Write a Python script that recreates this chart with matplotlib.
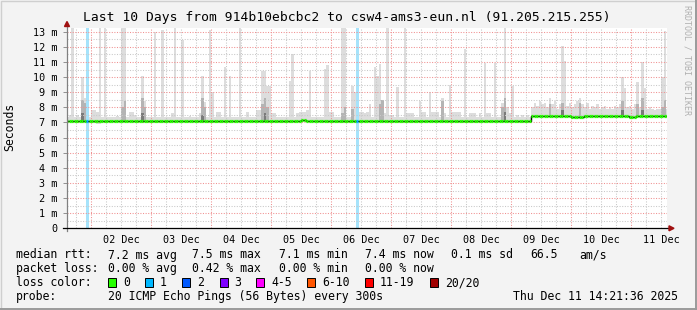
import datetime as dt
import matplotlib
matplotlib.use('Agg')
import matplotlib.pyplot as plt
import matplotlib.dates as mdates
from matplotlib.patches import Rectangle, Polygon

plt.rcParams['font.family'] = ['DejaVu Sans Mono']

W, H = 697, 310

# time range of the graph (10 days ending at the stamp in the legend)
end_time = dt.datetime(2025, 12, 11, 14, 21, 36)
start_time = end_time - dt.timedelta(days=10)
first_bin = dt.datetime(2025, 12, 1, 14, 0)   # hourly rrd bins, index -1 is 14:00

# smoke (ping spread) per hourly bin, ms
smoke_default = 7.35
peak_bins = [0, 1, 3, 5, 6, 9, 10, 11, 12, 14, 19, 21, 22, 24, 25, 26, 29, 30, 34,
             37, 41, 42, 45, 48, 52, 53, 54, 56, 57, 59, 60, 62, 64, 68, 71, 75,
             76, 77, 78, 79, 80, 81, 82, 88, 89, 91, 92, 93, 94, 95, 96, 102, 103,
             104, 105, 109, 110, 113, 114, 116, 117, 118, 119, 120, 122, 123, 124,
             125, 126, 127, 128, 129, 131, 134, 135, 136, 137, 140, 141, 142, 144,
             145, 146, 147, 149, 150, 152, 153, 154, 155, 156, 158, 160, 161, 162,
             164, 166, 167, 168, 170, 173, 174, 175, 176, 177, 179, 181, 183]
peak_tops = [7.5, 13.3, 7.5, 10.0, 8.6, 7.8, 7.8, 7.7, 13.3, 13.3, 7.4, 13.3, 13.3,
             7.7, 7.7, 7.5, 10.07, 8.4, 13.0, 13.1, 7.6, 13.3, 12.45, 7.4, 7.6, 10.07,
             8.35, 13.1, 9.0, 7.7, 7.7, 10.7, 10.07, 13.3, 7.7, 7.8, 7.8, 10.4, 10.4,
             9.4, 9.4, 7.6, 7.6, 9.75, 11.5, 7.6, 7.7, 7.7, 7.7, 7.8, 10.4, 10.55, 10.8,
             7.7, 7.7, 13.3, 13.3, 9.4, 9.0, 7.7, 7.7, 7.6, 7.7, 8.2, 10.7, 10.1, 10.9,
             8.5, 7.6, 13.3, 7.5, 7.5, 9.35, 13.3, 7.6, 7.6, 7.6, 8.4, 7.7, 7.7, 9.0,
             7.7, 7.7, 7.7, 8.6, 7.6, 9.5, 7.7, 7.7, 7.7, 7.7, 11.85, 7.6, 7.6, 7.6,
             7.6, 10.95, 7.6, 7.6, 10.95, 8.3, 13.3, 8.0, 7.6, 9.4, 7.5, 7.5, 7.5]
late_start = 185
late_tops = [8.0, 8.3, 8.1, 8.4, 8.2, 8.3, 8.0, 8.6, 8.2, 8.4, 7.9, 8.2, 12.05, 11.1,
             8.1, 8.3, 8.0, 8.2, 8.4, 8.6, 8.2, 8.0, 8.3, 7.9, 8.1, 8.0, 8.2, 7.9, 8.0,
             8.1, 7.9, 8.0, 7.9, 8.1, 8.0, 8.2, 10.0, 9.3, 8.0, 8.1, 7.9, 8.2, 9.7, 8.0,
             11.0, 9.3, 7.9, 8.0, 7.9, 7.8, 7.9, 7.9, 10.0, 13.05, 7.9]

# lowest ping where it reaches clearly below the median
low_bins = [11, 12, 47, 105, 201]
low_vals = [6.9, 6.9, 6.95, 6.95, 7.2]

# darker smoke (many pings overlapping)
dark_bins = [5, 6, 21, 22, 29, 30, 53, 54, 77, 78, 79, 109, 110, 113, 124, 125, 149,
             173, 174, 192, 197, 204, 221, 227, 229, 237, 238]
dark_tops = [8.5, 8.3, 8.0, 8.4, 8.6, 8.0, 8.6, 8.0, 8.2, 8.6, 8.0, 7.6, 8.0, 7.9,
             8.2, 8.5, 8.4, 8.0, 8.6, 8.2, 8.3, 8.3, 8.4, 8.2, 8.6, 8.0, 8.5]
darkest_bins = [5, 29, 53, 78, 174, 197, 221, 229]
darkest_tops = [7.6, 7.6, 7.5, 7.6, 7.7, 7.8, 7.8, 7.8]

# median rtt
median_early = 7.12
median_late = 7.45
median_dev_bins = [93, 94, 201, 202, 203, 204, 205, 206, 224, 225, 226, 231, 232]
median_dev_vals = [7.15, 7.16, 7.38, 7.36, 7.38, 7.38, 7.36, 7.4, 7.37, 7.36, 7.38,
                   7.4, 7.41]

# bins with 1/20 packet lost
loss_bins = [7, 115]

loss_labels = ['0', '1', '2', '3', '4-5', '6-10', '11-19', '20/20']
loss_colors = ['#26ff00', '#00b8ff', '#0059ff', '#7e00ff', '#ff00ff', '#ff5500',
               '#ff0000', '#a10000']

# ---- build per-bin arrays
bins = list(range(-1, 240))
tops = {n: smoke_default for n in bins}
tops.update(dict(zip(peak_bins, peak_tops)))
for i, v in enumerate(late_tops):
	tops[late_start + i] = v
med = {n: (median_early if n < late_start else median_late) for n in bins}
med.update(dict(zip(median_dev_bins, median_dev_vals)))
lows = {n: med[n] - 0.1 for n in bins}
lows.update(dict(zip(low_bins, low_vals)))


def t_of(n):
	return mdates.date2num(first_bin + dt.timedelta(hours=n + 1))


step = 1 / 24.0

fig = plt.figure(figsize=(W / 100, H / 100), dpi=100, facecolor='#f3f3f3')
ax = fig.add_axes([67 / W, 1 - 228.3 / H, 600 / W, 200.3 / H])
ax.set_facecolor('white')

x = [t_of(n) for n in bins]
ax.bar(x, [tops[n] - lows[n] for n in bins], bottom=[lows[n] for n in bins],
       width=step, align='edge', color='#dddddd', linewidth=0, zorder=1)
ax.bar([t_of(n) for n in dark_bins],
       [dark_tops[i] - lows[n] for i, n in enumerate(dark_bins)],
       bottom=[lows[n] for n in dark_bins], width=step, align='edge',
       color='#b4b4b4', linewidth=0, zorder=1.2)
ax.bar([t_of(n) for n in darkest_bins],
       [darkest_tops[i] - lows[n] for i, n in enumerate(darkest_bins)],
       bottom=[lows[n] for n in darkest_bins], width=step, align='edge',
       color='#7a7a7a', linewidth=0, zorder=1.3)

# loss bars across the whole height
for n in loss_bins:
	ax.axvspan(t_of(n), t_of(n) + step, color='#a6e3fb', linewidth=0, zorder=1.5)

# grid
t = dt.datetime(2025, 12, 1, 18, 0)
while t < end_time:
	c = '#f09090' if t.hour == 0 else '#c8c8c8'
	ax.axvline(t, color=c, lw=0.75, ls=(0, (1, 1.5)), zorder=2)
	t += dt.timedelta(hours=6)
for k in range(1, 27):
	c = '#f09090' if k % 2 == 0 else '#c8c8c8'
	ax.axhline(k / 2, color=c, lw=0.75, ls=(0, (1, 1.5)), zorder=2)

# median line: black steps underneath, loss-coloured segments on top
ax.step(x + [x[-1] + step], [med[n] for n in bins] + [med[bins[-1]]], where='post',
        color='black', lw=1.0, zorder=3)
for n in bins:
	c = loss_colors[1] if n in loss_bins else loss_colors[0]
	ax.hlines(med[n], t_of(n) + 0.003, t_of(n) + step - 0.003, color=c, lw=2.3,
	          zorder=4)

ax.set_xlim(start_time, end_time)
ax.set_ylim(0, 13.25)

for s in ax.spines.values():
	s.set_visible(False)

ax.set_yticks(range(0, 14))
ax.set_yticklabels(['0'] + ['%d m' % k for k in range(1, 14)])
ax.tick_params(axis='y', length=3, width=0.7, color='#909090', pad=4,
               labelsize=7.3)
noons = [dt.datetime(2025, 12, d, 12, 0) for d in range(2, 12)]
ax.set_xticks(noons)
ax.set_xticklabels([d.strftime('%d Dec') for d in noons])
ax.tick_params(axis='x', length=0, pad=5, labelsize=7.3)

# axes lines with arrows
ax.plot([0, 0], [-0.015, 1.02], transform=ax.transAxes, color='#808080', lw=0.9,
        clip_on=False, zorder=5)
ax.plot([-0.007, 1.005], [0, 0], transform=ax.transAxes, color='black', lw=0.9,
        clip_on=False, zorder=5)
fig.patches.append(Polygon([(669 / W, 1 - 225.8 / H), (669 / W, 1 - 230.8 / H),
                            (674 / W, 1 - 228.3 / H)], closed=True,
                           transform=fig.transFigure, color='#a01010'))
fig.patches.append(Polygon([(64.5 / W, 1 - 26.5 / H), (69.5 / W, 1 - 26.5 / H),
                            (67 / W, 1 - 21.5 / H)], closed=True,
                           transform=fig.transFigure, color='#a01010'))

# texts
fs = 8.3
fig.text(347 / W, 1 - 18 / H,
         'Last 10 Days from 914b10ebcbc2 to csw4-ams3-eun.nl (91.205.215.255)',
         ha='center', va='center', fontsize=9.4)
fig.text(10 / W, 1 - 127 / H, 'Seconds', rotation=90, ha='center', va='center',
         fontsize=fs)
fig.text(687 / W, 1 - 5 / H, 'RRDTOOL / TOBI OETIKER', rotation=270, ha='center',
         va='top', fontsize=6, color='#b0b0b0')


def row(y, items):
	for xp, s in items:
		fig.text(xp / W, 1 - y / H, s, ha='left', va='center', fontsize=fs)


row(255, [(16, 'median rtt:'), (107.6, '7.2 ms avg'), (192.4, '7.5 ms max'),
          (279.1, '7.1 ms min'), (365.3, '7.4 ms now'), (451.1, '0.1 ms sd'),
          (530.2, '66.5'), (579.1, 'am/s')])
row(268.5, [(16, 'packet loss:'), (107.6, '0.00 % avg'), (192.4, '0.42 % max'),
            (279.1, '0.00 % min'), (365.3, '0.00 % now')])
sq_x = [108.4, 145.3, 182.2, 219.6, 256.4, 307.1, 365.3, 430.2]
lab_x = [123.6, 160, 196.9, 234.2, 271.1, 321.8, 380, 444.9]
row(282.5, [(16, 'loss color:')])
for i in range(len(loss_labels)):
	fig.patches.append(Rectangle((sq_x[i] / W, 1 - 286.8 / H), 8 / W, 9 / H,
	                             transform=fig.transFigure, facecolor=loss_colors[i],
	                             edgecolor='black', lw=0.7))
	row(282.5, [(lab_x[i], loss_labels[i])])
row(296.5, [(16, 'probe:'), (107.6, '20 ICMP Echo Pings (56 Bytes) every 300s'),
            (513.3, end_time.strftime('%a %b %d %H:%M:%S %Y'))])

# frame
fig.patches.append(Rectangle((0.5 / W, 0.5 / H), (W - 1) / W, (H - 1) / H,
                             transform=fig.transFigure, fill=False,
                             edgecolor='#cfcfcf', lw=1))
fig.lines.append(plt.Line2D([1 - 1.5 / W, 1 - 1.5 / W], [0, 1],
                            transform=fig.transFigure, color='#9a9a9a', lw=1.4))
fig.lines.append(plt.Line2D([0, 1], [1.5 / H, 1.5 / H],
                            transform=fig.transFigure, color='#9a9a9a', lw=1.4))

plt.savefig('out.png', dpi=100, facecolor=fig.get_facecolor())
plt.close()
